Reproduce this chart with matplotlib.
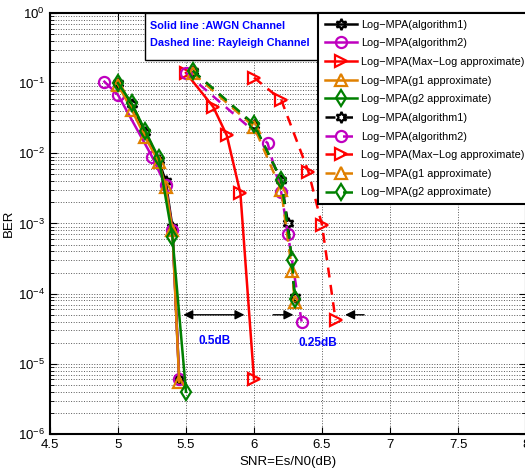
import numpy as np
import matplotlib
matplotlib.use('Agg')
import matplotlib.pyplot as plt
from matplotlib import font_manager
from matplotlib.patches import Rectangle

names = {f.name for f in font_manager.fontManager.ttflist}
if 'Liberation Sans Narrow' in names:
    fam, leg_size, box_size = 'Liberation Sans Narrow', 9.4, 8.8
else:
    fam, leg_size, box_size = 'Liberation Sans', 7.8, 7.8
plt.rcParams['font.family'] = ['Liberation Sans', 'DejaVu Sans']
plt.rcParams['mathtext.fontset'] = 'custom'
plt.rcParams['mathtext.rm'] = 'Liberation Sans'
plt.rcParams['mathtext.it'] = 'Liberation Sans'

# AWGN channel (solid)
awgn_alg1_x = [5.0, 5.1, 5.2, 5.3, 5.35, 5.4, 5.45]
awgn_alg1_y = [0.1, 0.05, 0.02, 0.008, 0.004, 0.0009, 6e-6]
awgn_alg2_x = [4.9, 5.0, 5.25, 5.35, 5.4, 5.45]
awgn_alg2_y = [0.105, 0.068, 0.009, 0.0035, 0.0008, 6e-6]
awgn_maxlog_x = [5.5, 5.7, 5.8, 5.9, 6.0]
awgn_maxlog_y = [0.14, 0.046, 0.018, 0.0027, 6e-6]
awgn_g1_x = [5.0, 5.1, 5.2, 5.3, 5.35, 5.4, 5.45]
awgn_g1_y = [0.095, 0.042, 0.017, 0.0075, 0.0033, 0.0008, 5.5e-6]
awgn_g2_x = [5.0, 5.1, 5.2, 5.3, 5.4, 5.5]
awgn_g2_y = [0.1, 0.052, 0.021, 0.0085, 0.00065, 4e-6]

# Rayleigh channel (dashed)
ray_alg1_x = [5.55, 6.0, 6.2, 6.25, 6.3]
ray_alg1_y = [0.15, 0.025, 0.0042, 0.001, 9e-5]
ray_alg2_x = [5.5, 6.1, 6.2, 6.25, 6.35]
ray_alg2_y = [0.14, 0.014, 0.0028, 0.0007, 4e-5]
ray_maxlog_x = [6.0, 6.2, 6.4, 6.5, 6.6]
ray_maxlog_y = [0.12, 0.058, 0.0055, 0.00095, 4.2e-5]
ray_g1_x = [5.55, 6.0, 6.2, 6.28, 6.3]
ray_g1_y = [0.14, 0.024, 0.003, 0.00021, 7.5e-5]
ray_g2_x = [5.55, 6.0, 6.2, 6.28, 6.3]
ray_g2_y = [0.15, 0.026, 0.0042, 0.0003, 8.5e-5]

labels = ['Log\u2212MPA(algorithm1)', 'Log\u2212MPA(algorithm2)',
          'Log\u2212MPA(Max\u2212Log approximate)', 'Log\u2212MPA(g1 approximate)',
          'Log\u2212MPA(g2 approximate)']
colors = ['k', '#BF00BF', '#FF0000', '#E08000', '#008000']
markers = [(6, 1, 0), 'o', '>', '^', 'd']

awgn = [(awgn_alg1_x, awgn_alg1_y), (awgn_alg2_x, awgn_alg2_y), (awgn_maxlog_x, awgn_maxlog_y),
        (awgn_g1_x, awgn_g1_y), (awgn_g2_x, awgn_g2_y)]
ray = [(ray_alg1_x, ray_alg1_y), (ray_alg2_x, ray_alg2_y), (ray_maxlog_x, ray_maxlog_y),
       (ray_g1_x, ray_g1_y), (ray_g2_x, ray_g2_y)]

fig = plt.figure(figsize=(5.25, 4.74), dpi=100)
ax = fig.add_axes([50/525, 40/474, 476/525, 421/474])

for (x, y), c, m, lab in zip(awgn, colors, markers, labels):
    ax.semilogy(x, y, '-', color=c, marker=m, ms=8, mfc='none', mec=c, mew=1.6, lw=1.8, label=lab)
for (x, y), c, m, lab in zip(ray, colors, markers, labels):
    ax.semilogy(x, y, '--', color=c, marker=m, ms=8, mfc='none', mec=c, mew=1.6, lw=1.8,
                dashes=(4, 3), label=lab)

ax.set_xlim(4.5, 8)
ax.set_ylim(1e-6, 1)
ax.set_xticks([4.5, 5, 5.5, 6, 6.5, 7, 7.5, 8])
ax.set_xticklabels(['4.5', '5', '5.5', '6', '6.5', '7', '7.5', '8'])
ax.grid(True, which='major', linestyle=':', color='0.35', linewidth=0.7)
ax.grid(True, which='minor', axis='y', linestyle=':', color='0.35', linewidth=0.7)
ax.tick_params(which='both', direction='in', top=True, right=True, labelsize=9.5)
ax.tick_params(which='major', length=5)
ax.tick_params(which='minor', length=3)
for s in ax.spines.values():
    s.set_linewidth(1.5)
ax.set_xlabel('SNR=Es/N0(dB)', fontsize=9.5, labelpad=4)
ax.set_ylabel('BER', fontsize=9.5)
ax.yaxis.set_label_coords(-35/476, 0.5)

# channel note box
ax.add_patch(Rectangle((95/476, 374/421), 0.42, 47/421, transform=ax.transAxes,
                       fc='white', ec='k', lw=1.0, zorder=4))
ax.text(100/476, 408/421, 'Solid line :AWGN Channel', transform=ax.transAxes,
        va='center', ha='left', color='#0000FF', fontsize=box_size, fontweight='bold',
        family=[fam], zorder=4.5)
ax.text(100/476, 391/421, 'Dashed line: Rayleigh Channel', transform=ax.transAxes,
        va='center', ha='left', color='#0000FF', fontsize=box_size, fontweight='bold',
        family=[fam], zorder=4.5)

leg = ax.legend(loc='upper left', bbox_to_anchor=(268/476, 1.0), borderaxespad=0,
                prop={'family': fam, 'size': leg_size}, fancybox=False,
                edgecolor='k', framealpha=1, handlelength=3.0, labelspacing=0.8,
                handletextpad=0.4, borderpad=0.6)
leg.get_frame().set_linewidth(1.5)
leg.set_zorder(5)

ax.annotate('', xy=(5.46, 5e-5), xytext=(5.95, 5e-5),
            arrowprops=dict(arrowstyle='<|-|>', color='k', lw=1.0, mutation_scale=14))
ax.text(5.71, 2.1e-5, '0.5dB', color='#0000FF', fontsize=8.5, fontweight='bold',
        ha='center', va='center', family=[fam])
ax.annotate('', xy=(6.31, 5e-5), xytext=(6.12, 5e-5),
            arrowprops=dict(arrowstyle='-|>', color='k', lw=1.0, mutation_scale=14))
ax.annotate('', xy=(6.65, 5e-5), xytext=(6.83, 5e-5),
            arrowprops=dict(arrowstyle='-|>', color='k', lw=1.0, mutation_scale=14))
ax.text(6.47, 2e-5, '0.25dB', color='#0000FF', fontsize=8.5, fontweight='bold',
        ha='center', va='center', family=[fam])

fig.savefig('out.png', dpi=100)
